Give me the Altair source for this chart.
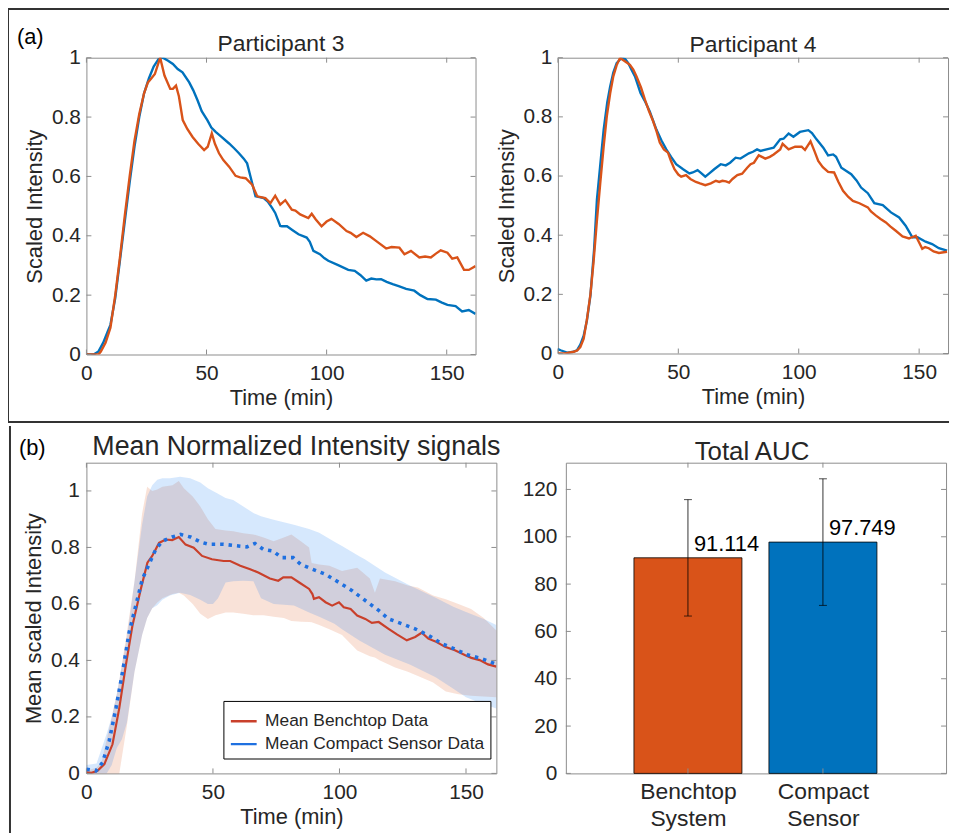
import json
import altair as alt
import pandas as pd

FONT = "Liberation Sans"
INK = "#262626"
FRAME = "#8c8c8c"
BLUE = "#0072BD"
ORANGE = "#D95319"
MEAN_RED = "#C9402B"
MEAN_BLUE = "#1F70E0"

# ---------------- data ----------------
# Participant 3
p3_compact = [(0,0),(3,0),(5,0.01),(7,0.04),(9,0.08),(10,0.1),(12,0.19),(14,0.32),(16,0.45),(18,0.58),
    (20,0.7),(22,0.8),(24,0.88),(26,0.93),(28,0.97),(30,0.995),(31.8,1.0),(34,0.99),(36,0.979),(38,0.962),
    (40,0.951),(42.8,0.917),(44.5,0.89),(46.3,0.856),(48,0.82),(50.4,0.789),(52,0.765),(53.8,0.75),(56,0.735),
    (59.4,0.711),(61.5,0.695),(63.5,0.678),(65.5,0.66),(66.9,0.644),(68.3,0.6),(70.4,0.533),(72,0.53),
    (73.8,0.527),(75.5,0.515),(77.3,0.494),(78.6,0.477),(80.7,0.433),(81.4,0.432),(83.5,0.432),(86,0.418),
    (88.3,0.405),(91.7,0.394),(93,0.38),(94.5,0.349),(97.2,0.338),(99,0.325),(100.7,0.316),(104.8,0.301),
    (109,0.285),(111.7,0.282),(114,0.268),(116.5,0.249),(118.6,0.256),(120.7,0.253),(122.7,0.254),(125,0.245),
    (127.5,0.237),(130,0.23),(133.1,0.221),(136.5,0.215),(139,0.2),(142,0.187),(145.5,0.185),(148,0.175),
    (150.3,0.167),(153.7,0.163),(156.4,0.145),(159.2,0.15),(162,0.137)]
p3_bench = [(0,0),(2,0),(5,0),(6,0.01),(8,0.04),(10,0.09),(12,0.2),(14,0.33),(16,0.47),(18,0.6),(20,0.72),
    (22,0.81),(24,0.88),(25.6,0.917),(27,0.93),(28.5,0.945),(30.7,1.0),(32.5,0.94),(34.9,0.895),(36,0.895),
    (37.3,0.906),(38.5,0.87),(40.1,0.79),(42,0.76),(44.2,0.733),(46.5,0.71),(49,0.689),(50.5,0.7),(52.2,0.745),
    (53.5,0.71),(55.2,0.678),(57,0.655),(59.4,0.633),(62.1,0.602),(64,0.597),(66.3,0.594),(69,0.572),
    (71.1,0.533),(74.5,0.527),(76.6,0.51),(78.6,0.535),(80.7,0.505),(82.8,0.52),(85.5,0.488),(87,0.485),
    (89,0.472),(92.4,0.46),(93.8,0.474),(95.5,0.455),(97.9,0.432),(100,0.448),(102,0.457),(105,0.44),
    (108.3,0.416),(110,0.41),(112.4,0.396),(115.2,0.41),(118,0.398),(120.7,0.382),(124.8,0.357),(127,0.362),
    (130.3,0.36),(132.4,0.338),(135.1,0.349),(138.6,0.327),(141,0.33),(143.4,0.327),(145.5,0.34),
    (147.5,0.351),(150.3,0.343),(152.3,0.323),(154.4,0.327),(157.2,0.285),(159.2,0.285),(162,0.298)]
# Participant 4
p4_compact = [(0,0.015),(1.1,0.011),(3.8,0.003),(6,0.005),(7.9,0.011),(9.3,0.03),(10.7,0.06),(12,0.11),
    (13.5,0.196),(15,0.35),(16.2,0.52),(17.5,0.63),(19,0.757),(20.5,0.85),(21.7,0.903),(23,0.95),(24.4,0.982),
    (26.5,1.0),(28,0.995),(29.2,0.982),(30.5,0.96),(32,0.937),(34.3,0.881),(36,0.855),(38.1,0.819),
    (40.9,0.757),(43,0.72),(45,0.69),(47,0.665),(49.1,0.64),(52,0.623),(54.6,0.609),(56,0.612),(58,0.62),
    (59.5,0.61),(61.2,0.598),(63,0.61),(64.9,0.623),(67.6,0.64),(69.7,0.636),(71.5,0.645),(73.8,0.662),
    (75.8,0.659),(79.3,0.677),(81,0.682),(82.7,0.69),(84.1,0.685),(87.5,0.692),(89.6,0.696),(92.3,0.724),
    (93.7,0.726),(95.8,0.744),(97.8,0.733),(100.5,0.749),(104,0.755),(105.5,0.745),(107.4,0.724),
    (110.2,0.696),(112.2,0.67),(114.3,0.673),(115.5,0.665),(117.7,0.628),(121.8,0.606),(124,0.585),
    (125.9,0.561),(128.7,0.542),(131.4,0.508),(134.9,0.502),(138.3,0.477),(141.7,0.46),(144.4,0.432),
    (147.2,0.393),(149.3,0.393),(152.7,0.378),(155.4,0.37),(158.2,0.356),(161.6,0.348)]
p4_bench = [(0,0),(3,0),(6.6,0.006),(8,0.01),(9.3,0.022),(10.7,0.05),(12.1,0.118),(13.5,0.2),(14.8,0.31),
    (16.2,0.45),(17.6,0.578),(19,0.7),(20.3,0.802),(21.7,0.88),(23,0.937),(24.4,0.975),(25.8,0.999),
    (27.5,0.99),(29.9,0.976),(31.3,0.96),(32.6,0.937),(34.5,0.9),(36.1,0.859),(37.8,0.82),(39.5,0.786),
    (41,0.75),(42.3,0.713),(44,0.69),(45.7,0.679),(47,0.65),(48.4,0.623),(50,0.605),(51.2,0.598),(53.2,0.603),
    (55,0.59),(57.3,0.58),(59,0.575),(61.2,0.569),(63.5,0.575),(65.6,0.584),(67,0.58),(68.3,0.584),
    (69.8,0.582),(71.1,0.578),(72.5,0.59),(74.5,0.603),(76.5,0.608),(78.6,0.628),(80,0.64),(81.4,0.645),
    (83.4,0.67),(86.1,0.659),(88,0.665),(89.6,0.673),(92.3,0.69),(93.3,0.709),(95.8,0.69),(98.5,0.699),
    (101.2,0.699),(102.6,0.688),(104.9,0.717),(106.5,0.685),(108.1,0.651),(110,0.63),(112.2,0.614),
    (114.7,0.612),(116.5,0.58),(118.4,0.55),(120.5,0.53),(122.5,0.516),(125.2,0.508),(128.7,0.494),
    (130,0.48),(132.1,0.466),(134,0.455),(136.2,0.443),(138,0.43),(140.3,0.415),(143.1,0.396),(145.8,0.389),
    (147,0.393),(148.6,0.398),(150,0.375),(151.3,0.354),(152.5,0.36),(154,0.356),(156,0.345),(158.2,0.34),
    (161.6,0.344)]
# Mean signals
mean_bench = [(0,0.004),(2,0.002),(4.4,0.009),(7.1,0.033),(10.3,0.103),(13,0.232),(15.6,0.384),(18.2,0.524),
    (21.5,0.653),(24.1,0.746),(26,0.77),(28.7,0.816),(31.3,0.828),(33.9,0.826),(36.5,0.837),(39.2,0.81),
    (42.4,0.799),(45.7,0.77),(49.6,0.758),(54.2,0.752),(56.8,0.752),(60.8,0.735),(64.7,0.723),(67.9,0.711),
    (72.5,0.69),(75.8,0.682),(77.8,0.694),(81,0.694),(84.1,0.676),(88,0.653),(89.3,0.635),(89.9,0.618),
    (91.9,0.624),(94.5,0.606),(97.1,0.594),(99.8,0.606),(101.7,0.588),(104.4,0.582),(107,0.559),(110.2,0.547),
    (112.8,0.533),(115.5,0.536),(119.4,0.512),(122.7,0.492),(126.6,0.471),(129.9,0.483),(132.5,0.498),
    (135.1,0.477),(138.4,0.465),(141.7,0.448),(145.6,0.436),(149.5,0.419),(152.1,0.409),(155.4,0.401),
    (158.7,0.386),(162,0.378)]
mean_compact = [(0,0.015),(3.8,0.009),(6.4,0.039),(9,0.115),(11.7,0.232),(14.3,0.36),(16.9,0.5),(19.5,0.594),
    (22.1,0.688),(24.7,0.74),(27.4,0.793),(30,0.822),(33.9,0.837),(37.2,0.846),(41.1,0.837),(45.1,0.819),
    (48.3,0.811),(54.2,0.811),(60.1,0.805),(63.4,0.802),(66.6,0.814),(69.9,0.793),(73.8,0.787),(77.1,0.764),
    (81.7,0.764),(84.7,0.74),(89.3,0.723),(94.5,0.705),(99.8,0.676),(105,0.647),(110.2,0.612),(115.5,0.577),
    (119.4,0.547),(124.6,0.53),(129.9,0.512),(135.1,0.489),(140.3,0.46),(145.6,0.44),(150.8,0.419),
    (156,0.407),(161.3,0.389)]
# shaded bands (t, lower, upper)
band_bench = [(0,-0.05,0.01),(4,-0.05,0.02),(6,-0.05,0.04),(8,-0.05,0.12),(10,-0.05,0.2),(12,-0.03,0.28),
    (13,0.0,0.33),(16,0.17,0.5),(19,0.36,0.68),(22,0.49,0.92),(24,0.55,1.015),(26,0.585,1.0),(28,0.605,1.005),
    (30,0.62,1.015),(34,0.635,1.02),(36.5,0.64,1.035),(38.5,0.63,1.01),(42,0.6,0.98),(45,0.565,0.945),
    (48,0.547,0.9),(51,0.56,0.865),(55,0.57,0.86),(58,0.57,0.857),(62,0.565,0.85),(66,0.56,0.846),
    (70,0.56,0.835),(74,0.555,0.822),(78,0.55,0.835),(81,0.54,0.846),(85,0.537,0.82),(88,0.536,0.8),
    (89,0.535,0.745),(92,0.525,0.74),(96,0.51,0.735),(101,0.49,0.717),(107,0.435,0.728),(112,0.415,0.69),
    (114,0.41,0.64),(116,0.4,0.69),(122,0.375,0.68),(127,0.36,0.665),(131,0.345,0.658),(137,0.322,0.63),
    (142,0.29,0.617),(147,0.28,0.6),(152,0.275,0.582),(157,0.272,0.55),(162,0.27,0.506)]
band_compact = [(0,0.0,0.03),(4,0.0,0.035),(8,0.0,0.14),(10,0.03,0.2),(12,0.09,0.28),(14,0.12,0.38),
    (16,0.18,0.48),(19,0.36,0.68),(22,0.49,0.88),(24,0.55,0.98),(26,0.585,1.02),(28,0.595,1.04),
    (30,0.615,1.045),(33,0.63,1.045),(37,0.64,1.05),(41,0.632,1.045),(45,0.615,1.03),(48,0.6,1.01),
    (50,0.6,1.0),(52,0.62,0.99),(55,0.676,0.975),(58,0.68,0.968),(62,0.682,0.945),(66,0.68,0.922),
    (69,0.62,0.91),(74,0.6,0.898),(82,0.594,0.88),(88,0.57,0.865),(92,0.555,0.852),(98,0.53,0.82),
    (101,0.51,0.805),(108,0.47,0.768),(110,0.46,0.758),(118,0.42,0.711),(128,0.385,0.664),(138,0.34,0.622),
    (145,0.3,0.59),(150,0.27,0.571),(157,0.245,0.547),(162,0.23,0.525)]
# Total AUC
auc_names = ["Benchtop System", "Compact Sensor"]
auc_values = [91.114, 97.749]
auc_low = [66.5, 71.0]
auc_high = [115.7, 124.5]
auc_colors = [ORANGE, BLUE]
legend_names = ["Mean Benchtop Data", "Mean Compact Sensor Data"]

time_ticks = [0, 50, 100, 150]
unit_ticks = [0, 0.2, 0.4, 0.6, 0.8, 1]
auc_ticks = [0, 20, 40, 60, 80, 100, 120]

TL = 5  # inward tick length (px)
one = pd.DataFrame({"k": [0]})


def xy(pairs):
    return pd.DataFrame(pairs, columns=["t", "v"])


def tick_layers(xf, yf, xs, ys, xax, yax, xvals, yvals, W, H):
    dx = pd.DataFrame({xf: xvals})
    dy = pd.DataFrame({yf: yvals})
    X = alt.X(f"{xf}:Q", scale=xs, axis=xax)
    Y = alt.Y(f"{yf}:Q", scale=ys, axis=yax)
    rule = dict(color=FRAME, strokeWidth=1)
    return [
        alt.Chart(dx).mark_rule(**rule).encode(x=X, y=alt.value(H), y2=alt.value(H - TL)),
        alt.Chart(dx).mark_rule(**rule).encode(x=X, y=alt.value(0), y2=alt.value(TL)),
        alt.Chart(dy).mark_rule(**rule).encode(y=Y, x=alt.value(0), x2=alt.value(TL)),
        alt.Chart(dy).mark_rule(**rule).encode(y=Y, x=alt.value(W), x2=alt.value(W - TL)),
    ]


def title_mark(text, x, y, size):
    return alt.Chart(one).mark_text(text=text, align="center", baseline="alphabetic", fontSize=size,
                                    color=INK).encode(x=alt.value(x), y=alt.value(y))


def x_time_axis():
    return alt.Axis(values=time_ticks, title="Time (min)", labelFontSize=21, titleFontSize=22,
                    labelPadding=8, titlePadding=4, labelFlush=False, labelOverlap=False)


def y_axis(vals, title, pad=6, fmt="~g"):
    kw = dict(values=vals, format=fmt, labelFontSize=21, labelPadding=pad, labelOverlap=False)
    if title is None:
        kw["title"] = None
    else:
        kw.update(title=title, titleFontSize=22, titlePadding=5)
    return alt.Axis(**kw)


def participant_panel(title, compact, bench, W, H, title_y, extra=None):
    xs = alt.Scale(domain=[0, 162], nice=False, zero=False)
    ys = alt.Scale(domain=[0, 1], nice=False)
    xax = x_time_axis()
    yax = y_axis(unit_ticks, "Scaled Intensity")
    X = alt.X("t:Q", scale=xs, axis=xax)
    Y = alt.Y("v:Q", scale=ys, axis=yax)
    layers = [
        alt.Chart(xy(compact)).mark_line(color=BLUE, strokeWidth=2.4, clip=True).encode(x=X, y=Y),
        alt.Chart(xy(bench)).mark_line(color=ORANGE, strokeWidth=2.4, clip=True).encode(x=X, y=Y),
    ]
    layers += tick_layers("t", "v", xs, ys, xax, yax, time_ticks, unit_ticks, W, H)
    layers.append(title_mark(title, W / 2, title_y, 23))
    if extra:
        layers += extra
    return alt.layer(*layers).properties(width=W, height=H)


frame_a = [
    alt.Chart(one).mark_rule(color="#333333", strokeWidth=2).encode(
        x=alt.value(-79), y=alt.value(-49), y2=alt.value(367)),
    alt.Chart(one).mark_rule(color="#333333", strokeWidth=2).encode(
        x=alt.value(-79), x2=alt.value(869), y=alt.value(-49)),
    alt.Chart(one).mark_rule(color="#333333", strokeWidth=2).encode(
        x=alt.value(-79), x2=alt.value(869), y=alt.value(367)),
    alt.Chart(one).mark_text(text="(a)", align="left", baseline="alphabetic", fontSize=22,
                             color="black").encode(x=alt.value(-70), y=alt.value(-14)),
]

pa = participant_panel("Participant 3", p3_compact, p3_bench, 392, 299, -7, frame_a)
pb = participant_panel("Participant 4", p4_compact, p4_bench, 393, 298, -6)

# ---------------- panel (b) left: mean signals ----------------
WC, HC = 413, 313
xs_c = alt.Scale(domain=[0, 162], nice=False, zero=False)
ys_c = alt.Scale(domain=[0, 1.1], nice=False)
xax_c = x_time_axis()
yax_c = y_axis(unit_ticks, "Mean scaled Intensity", pad=7)
Xc = alt.X("t:Q", scale=xs_c, axis=xax_c)
Yc = alt.Y("v:Q", scale=ys_c, axis=yax_c)


def band_df(rows):
    return pd.DataFrame(rows, columns=["t", "lo", "hi"])


mean_color = alt.Color(
    "series:N", scale=alt.Scale(domain=legend_names, range=[MEAN_RED, MEAN_BLUE]),
    legend=alt.Legend(title=None, orient="none", legendX=138, legendY=240, direction="vertical",
                      symbolType="stroke", symbolSize=676, symbolStrokeWidth=2.5, symbolDash=[1, 0],
                      labelFontSize=17.5, labelLimit=400, labelColor=INK, strokeColor="black",
                      fillColor="white", padding=6, rowPadding=-4, labelOffset=7))

layers_c = [
    alt.Chart(band_df(band_bench)).mark_area(color=ORANGE, opacity=0.17, clip=True).encode(
        x=Xc, y=alt.Y("lo:Q", scale=ys_c, axis=yax_c), y2="hi:Q"),
    alt.Chart(band_df(band_compact)).mark_area(color="#0073F2", opacity=0.16, clip=True).encode(
        x=Xc, y=alt.Y("lo:Q", scale=ys_c, axis=yax_c), y2="hi:Q"),
    alt.Chart(xy(mean_bench).assign(series=legend_names[0])).mark_line(
        clip=True, strokeWidth=2.2).encode(x=Xc, y=Yc, color=mean_color),
    alt.Chart(xy(mean_compact).assign(series=legend_names[1])).mark_line(
        clip=True, strokeWidth=3.6, strokeDash=[3.5, 5], strokeCap="butt").encode(x=Xc, y=Yc, color=mean_color),
]
layers_c += tick_layers("t", "v", xs_c, ys_c, xax_c, yax_c, time_ticks, unit_ticks, WC, HC)
layers_c += [
    alt.Chart(one).mark_rule(color="#333333", strokeWidth=2).encode(
        x=alt.value(-77), y=alt.value(-37), y2=alt.value(373)),
    alt.Chart(one).mark_text(text="(b)", align="left", baseline="alphabetic", fontSize=22,
                             color="black").encode(x=alt.value(-68), y=alt.value(-8)),
    title_mark("Mean Normalized Intensity signals", WC / 2 + 5, -8, 27),
]
pc = alt.layer(*layers_c).properties(width=WC, height=HC)

# ---------------- panel (b) right: Total AUC ----------------
WD, HD = 383, 313
positions = [1, 2]
bar_w = 0.8
auc_df = pd.DataFrame({"name": auc_names, "pos": positions, "val": auc_values,
                       "lo": auc_low, "hi": auc_high})
auc_df["x0"] = auc_df["pos"] - bar_w / 2
auc_df["x1"] = auc_df["pos"] + bar_w / 2
auc_df["zero"] = 0

xs_d = alt.Scale(domain=[0.0956, 2.912], nice=False, zero=False)
ys_d = alt.Scale(domain=[0, 131.3], nice=False)
label_expr = "split(" + json.dumps(auc_names) + "[round(datum.value) - 1], ' ')"
xax_d = alt.Axis(values=positions, title=None, labelExpr=label_expr, labelFontSize=23,
                 labelLineHeight=28, labelPadding=7, labelFlush=False, labelOverlap=False)
yax_d = y_axis(auc_ticks, None, pad=9, fmt="d")


def Xd(f):
    return alt.X(f"{f}:Q", scale=xs_d, axis=xax_d)


def Yd(f):
    return alt.Y(f"{f}:Q", scale=ys_d, axis=yax_d)


layers_d = [
    alt.Chart(auc_df).mark_bar(stroke="black", strokeWidth=0.8).encode(
        x=Xd("x0"), x2="x1:Q", y=Yd("val"), y2="zero:Q",
        color=alt.Color("name:N", scale=alt.Scale(domain=auc_names, range=auc_colors), legend=None)),
    alt.Chart(auc_df).mark_rule(color="black", strokeWidth=0.8).encode(x=Xd("pos"), y=Yd("lo"), y2="hi:Q"),
    alt.Chart(auc_df).mark_tick(color="black", orient="horizontal", size=8, thickness=1).encode(
        x=Xd("pos"), y=Yd("lo")),
    alt.Chart(auc_df).mark_tick(color="black", orient="horizontal", size=8, thickness=1).encode(
        x=Xd("pos"), y=Yd("hi")),
    alt.Chart(auc_df).mark_text(align="left", baseline="bottom", dx=6, dy=-2, fontSize=22,
                                color="black").encode(
        x=Xd("pos"), y=Yd("val"), text=alt.Text("val:Q", format=".3f")),
]
layers_d += tick_layers("pos", "val", xs_d, ys_d, xax_d, yax_d, positions, auc_ticks, WD, HD)
layers_d.append(title_mark("Total AUC", WD / 2 - 4, -3, 26))
pdd = alt.layer(*layers_d).properties(width=WD, height=HD)

row1 = alt.hconcat(pa, pb, spacing=83, bounds="flush")
row2 = alt.hconcat(pc, pdd, spacing=70, bounds="flush").resolve_scale(color="independent")

chart = alt.vconcat(row1, row2, spacing=0).resolve_scale(
    color="independent"
).properties(padding={"left": -2, "top": -4, "right": 0, "bottom": 0}).configure_view(
    stroke=FRAME, strokeWidth=1
).configure_axis(
    labelFont=FONT, titleFont=FONT, labelColor=INK, titleColor=INK, titleFontWeight="normal",
    domain=False, ticks=False, grid=False
).configure_legend(
    labelFont=FONT
).configure_text(
    font=FONT
)

chart.save("out.html", embed_options={"renderer": "svg", "actions": False})
